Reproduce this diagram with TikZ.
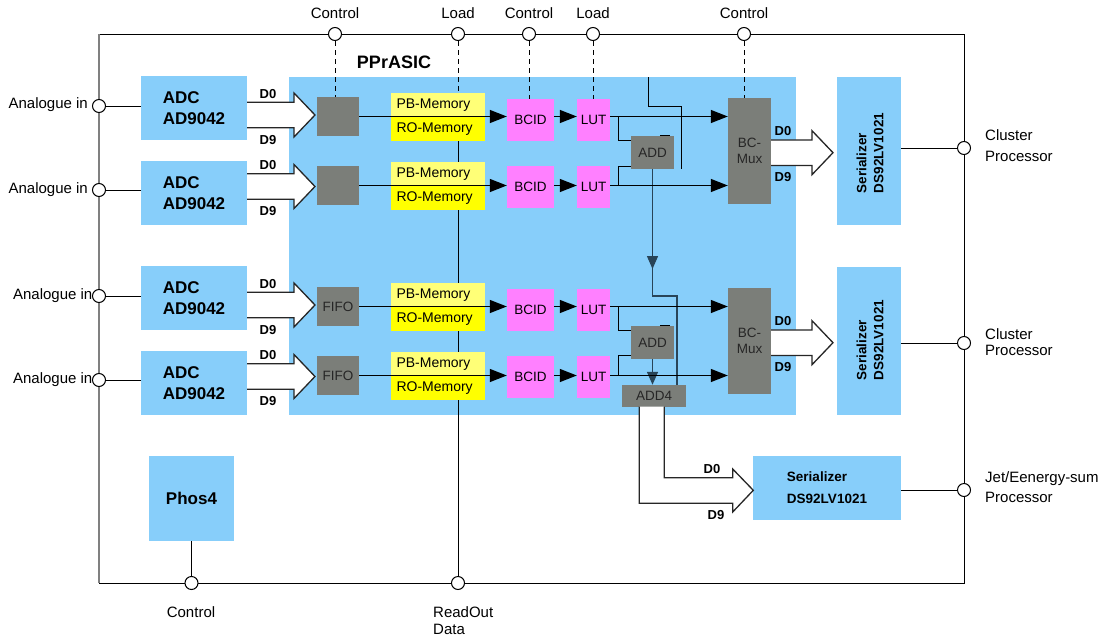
\documentclass[tikz,border=0pt]{standalone}
\usepackage{fontspec}
\setmainfont{Liberation Sans}
\usetikzlibrary{arrows.meta}
\pgfdeclarelayer{background}
\pgfsetlayers{background,main}
\definecolor{asicblue}{RGB}{135,206,250}
\definecolor{graybox}{RGB}{123,126,121}
\definecolor{pbyellow}{RGB}{255,255,119}
\definecolor{royellow}{RGB}{255,255,0}
\definecolor{pinkbox}{RGB}{255,128,255}
\definecolor{framegray}{RGB}{128,128,128}
\definecolor{slate}{RGB}{40,68,88}
\newcommand\fs[2]{\fontsize{#1}{#2}\selectfont}
% fat arrow: #1 shaft start x, #2 head base x, #3 tip x, #4 centre y
\newcommand\fatarrow[4]{%
  \fill[white] (#1,#4-12.8) -- (#2,#4-12.8) -- (#2,#4-22) -- (#3,#4) -- (#2,#4+22) -- (#2,#4+12.8) -- (#1,#4+12.8) -- cycle;
  \draw[fat] (#1,#4-12.8) -- (#2,#4-12.8) -- (#2,#4-22) -- (#3,#4) -- (#2,#4+22) -- (#2,#4+12.8) -- (#1,#4+12.8);}
\begin{document}
\begin{tikzpicture}[x=1pt,y=-1pt,
  bluebox/.style={fill=asicblue, inner sep=0pt, font=\fs{17}{21}\bfseries, align=left},
  graybx/.style={fill=graybox, inner sep=0pt, font=\fs{13.5}{16}, text=black!85},
  membx/.style={inner sep=0pt, minimum width=94pt, minimum height=24pt, text width=83pt, align=left, font=\fs{14}{16}},
  pinkbx/.style={fill=pinkbox, inner sep=0pt, minimum height=42pt, font=\fs{13.5}{16}},
  port/.style={circle, draw, fill=white, line width=1pt, minimum size=13pt, inner sep=0pt},
  lbl/.style={font=\fs{15}{18}, inner sep=0pt},
  dlbl/.style={font=\fs{13}{15}\bfseries, inner sep=0pt},
  wire/.style={line width=1pt, black},
  sig/.style={line width=1.3pt, -{Triangle[length=17pt,width=13pt]}},
  ctl/.style={line width=1pt, dash pattern=on 5pt off 4pt},
  fat/.style={line width=1.3pt, black!85, line join=miter},
  addout/.style={slate, line width=1.4pt},
  addarrow/.style={slate, line width=1.4pt, -{Triangle[length=13pt,width=11pt]}}]
\useasboundingbox (0,0) rectangle (1103,637);

% ---------- ports ----------
\node[port] (ct1) at (335,34) {};
\node[port] (ct2) at (458,34) {};
\node[port] (ct3) at (529,34) {};
\node[port] (ct4) at (593,34) {};
\node[port] (ct5) at (744,34) {};
\node[port] (ca1) at (99,106) {};
\node[port] (ca2) at (99,190) {};
\node[port] (ca3) at (99,296) {};
\node[port] (ca4) at (99,380) {};
\node[port] (cr1) at (964,148) {};
\node[port] (cr2) at (964,343) {};
\node[port] (cr3) at (964,490) {};
\node[port] (cb1) at (191.5,583) {};
\node[port] (cb2) at (458,583) {};

% ---------- labels ----------
\node[lbl] (lt1) at (335,13) {Control};
\node[lbl] (lt2) at (458,13) {Load};
\node[lbl] (lt3) at (529,13) {Control};
\node[lbl] (lt4) at (593,13) {Load};
\node[lbl] (lt5) at (744,13) {Control};
\node[lbl, anchor=east] (la1) at (88,105) {Analogue in};
\node[lbl, anchor=east] (la2) at (88,190) {Analogue in};
\node[lbl, anchor=east] (la3) at (92.5,296) {Analogue in};
\node[lbl, anchor=east] (la4) at (92.5,380) {Analogue in};
\node[lbl, anchor=west, align=left, font=\fs{15}{21}] (lr1) at (985,146) {Cluster\\Processor};
\node[lbl, anchor=west, align=left, font=\fs{15}{16.5}] (lr2) at (985,342) {Cluster\\Processor};
\node[lbl, anchor=west, align=left, font=\fs{15}{20.6}] (lr3) at (985,487) {Jet/Eenergy-sum\\Processor};
\node[lbl] (lb1) at (191,612) {Control};
\node[lbl, anchor=west, align=left, font=\fs{15}{17.6}] (lb2) at (433,620.5) {ReadOut\\Data};
\node[font=\fs{18}{20}\bfseries, inner sep=0pt] (asic) at (394,62) {PPrASIC};

% ---------- ADCs ----------
\node[bluebox, minimum width=106pt, minimum height=64pt] (adc1) at (194,108) {ADC\\AD9042};
\node[bluebox, minimum width=106pt, minimum height=64pt] (adc2) at (194,193) {ADC\\AD9042};
\node[bluebox, minimum width=106pt, minimum height=64pt] (adc3) at (194,298) {ADC\\AD9042};
\node[bluebox, minimum width=106pt, minimum height=64pt] (adc4) at (194,383) {ADC\\AD9042};

% ---------- input stage ----------
\node[graybx, minimum width=42pt, minimum height=39pt] (g1) at (338,116.5) {};
\node[graybx, minimum width=42pt, minimum height=39pt] (g2) at (338,185.5) {};
\node[graybx, minimum width=42pt, minimum height=39pt] (g3) at (338,306.5) {FIFO};
\node[graybx, minimum width=42pt, minimum height=39pt] (g4) at (338,375.5) {FIFO};

% ---------- memories ----------
\node[membx, fill=pbyellow] (pb1) at (438,105) {PB-Memory};
\node[membx, fill=royellow] (ro1) at (438,129) {RO-Memory};
\node[membx, fill=pbyellow] (pb2) at (438,174) {PB-Memory};
\node[membx, fill=royellow] (ro2) at (438,198) {RO-Memory};
\node[membx, fill=pbyellow] (pb3) at (438,295) {PB-Memory};
\node[membx, fill=royellow] (ro3) at (438,319) {RO-Memory};
\node[membx, fill=pbyellow] (pb4) at (438,364) {PB-Memory};
\node[membx, fill=royellow] (ro4) at (438,388) {RO-Memory};

% ---------- BCID / LUT ----------
\node[pinkbx, minimum width=47pt] (bc1) at (530.5,120) {BCID};
\node[pinkbx, minimum width=47pt] (bc2) at (530.5,187) {BCID};
\node[pinkbx, minimum width=47pt] (bc3) at (530.5,310) {BCID};
\node[pinkbx, minimum width=47pt] (bc4) at (530.5,377) {BCID};
\node[pinkbx, minimum width=33pt] (lut1) at (593.5,120) {LUT};
\node[pinkbx, minimum width=33pt] (lut2) at (593.5,187) {LUT};
\node[pinkbx, minimum width=33pt] (lut3) at (593.5,310) {LUT};
\node[pinkbx, minimum width=33pt] (lut4) at (593.5,377) {LUT};

% ---------- adders / mux ----------
\node[graybx, minimum width=43pt, minimum height=33pt] (add1) at (652.5,152.7) {ADD};
\node[graybx, minimum width=43pt, minimum height=33pt] (add2) at (652.5,342.7) {ADD};
\node[graybx, minimum width=64pt, minimum height=22pt] (add4) at (654,396) {ADD4};
\node[graybx, minimum width=43pt, minimum height=106pt, align=center] (mux1) at (749.5,151) {BC-\\Mux};
\node[graybx, minimum width=43pt, minimum height=106pt, align=center] (mux2) at (749.5,341) {BC-\\Mux};

% ---------- serializers ----------
\node[bluebox, minimum width=64pt, minimum height=148pt] (ser1) at (869,151) {};
\node[rotate=90, inner sep=0pt, font=\fs{13.5}{17}\bfseries, align=left] (ser1t) at (870,153) {Serializer\\DS92LV1021};
\node[bluebox, minimum width=64pt, minimum height=148pt] (ser2) at (869,341) {};
\node[rotate=90, inner sep=0pt, font=\fs{13.5}{17}\bfseries, align=left] (ser2t) at (870,340) {Serializer\\DS92LV1021};
\node[bluebox, minimum width=148pt, minimum height=64pt, font=\fs{13.5}{21.7}\bfseries] (ser3) at (827,488) {Serializer\\DS92LV1021};
\node[bluebox, minimum size=85pt] (phos) at (191.5,498.5) {Phos4};

% ---------- background: frame, ASIC, wires ----------
\begin{pgfonlayer}{background}
  \fill[asicblue] (289,77) rectangle (796,415);
  \draw[line width=1pt] (99,34) -- (964,34) -- (964,583) -- (99,583);
  \draw[framegray, line width=1.5pt] (99,34) -- (99,583);
  % analogue inputs
  \foreach \i in {1,...,4} {\draw[wire] (ca\i) -- (ca\i -| adc\i.west);}
  % control / load
  \draw[ctl] (ct1) -- (ct1 |- g1.north);
  \draw[ctl] (ct2) -- (ct2 |- pb1.north);
  \draw[ctl] (ct3) -- (ct3 |- bc1.north);
  \draw[ctl] (ct4) -- (ct4 |- lut1.north);
  \draw[ctl] (ct5) -- (ct5 |- mux1.north);
  % readout
  \draw[wire] (ct2 |- ro1.south) -- (cb2);
  \draw[wire] (phos.south) -- (cb1);
  % serializer outputs
  \draw[wire] (cr1 -| ser1.east) -- (cr1);
  \draw[wire] (cr2 -| ser2.east) -- (cr2);
  \draw[wire] (cr3 -| ser3.east) -- (cr3);
  % taps to adders
  \coordinate (tap1) at (618,116.5);
  \coordinate (tap2) at (618,185.5);
  \coordinate (tap3) at (618,306.5);
  \coordinate (tap4) at (618,375.5);
  \draw[wire] (tap1) |- (add1.west |- 0,140);
  \draw[wire] (tap2) |- (add1.west |- 0,166);
  \draw[wire] (tap3) |- (add2.west |- 0,330);
  \draw[wire] (tap4) |- (add2.west |- 0,355.5);
  \coordinate (topin) at (648,77);
  \draw[wire] (topin) |- (681,106) -- (681,169);
  \draw[wire] (660,135) -- (670,135);
  \draw[wire] (660,325) -- (670,325);
  % adder outputs
  \draw[addarrow] (add1.south) -- (652.5,269);
  \draw[addout] (652.5,265) |- (677,296) -- (add4.north -| 677,0);
  \draw[addarrow] (add2.south) -- (add2.south |- add4.north);
\end{pgfonlayer}

% ---------- signal paths ----------
\foreach \r/\m in {1/1,2/1,3/2,4/2} {
  \draw[sig] (g\r.east) -- (g\r.east -| bc\r.west);
  \draw[sig] (g\r.east -| bc\r.east) -- (g\r.east -| lut\r.west);
  \draw[sig] (g\r.east -| lut\r.east) -- (g\r.east -| mux\m.west);
}

% ---------- fat buses ----------
\fatarrow{247}{294}{315}{115}
\fatarrow{247}{294}{315}{186.5}
\fatarrow{247}{294}{315}{305}
\fatarrow{247}{294}{315}{376.5}
\fatarrow{771}{812}{833}{152.7}
\fatarrow{771}{812}{833}{342.7}
\fill[white] (639.3,406.7) -- (639.3,503.3) -- (732.7,503.3) -- (732.7,512) -- (753.3,490.3) -- (732.7,469) -- (732.7,477.7) -- (664.3,477.7) -- (664.3,406.7) -- cycle;
\draw[fat] (639.3,406.7) -- (639.3,503.3) -- (732.7,503.3) -- (732.7,512) -- (753.3,490.3) -- (732.7,469) -- (732.7,477.7) -- (664.3,477.7) -- (664.3,406.7);

% ---------- bus labels ----------
\node[dlbl] (d01) at (268,94) {D0};
\node[dlbl] (d91) at (268,140) {D9};
\node[dlbl] (d02) at (268,165.5) {D0};
\node[dlbl] (d92) at (268,211.5) {D9};
\node[dlbl] (d03) at (268,284) {D0};
\node[dlbl] (d93) at (268,330) {D9};
\node[dlbl] (d04) at (268,355.5) {D0};
\node[dlbl] (d94) at (268,401.5) {D9};
\node[dlbl] (d05) at (783,131) {D0};
\node[dlbl] (d95) at (783,177) {D9};
\node[dlbl] (d06) at (783,321) {D0};
\node[dlbl] (d96) at (783,367) {D9};
\node[dlbl] (d07) at (712,469) {D0};
\node[dlbl] (d97) at (716,515) {D9};
\end{tikzpicture}
\end{document}
